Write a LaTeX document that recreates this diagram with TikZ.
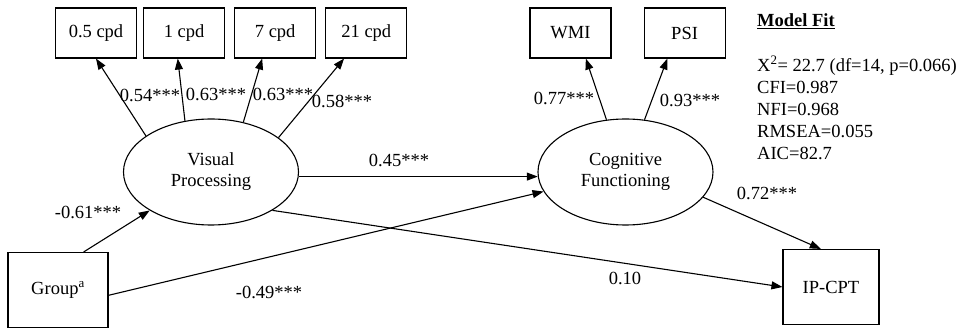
\documentclass[tikz,border=0pt]{standalone}
\usepackage{fontspec}
\setmainfont{Liberation Serif}
\usetikzlibrary{shapes.geometric,arrows.meta,positioning}

\begin{document}
\begin{tikzpicture}[x=1pt,y=-1pt,
    every node/.style={font=\fontsize{18.5pt}{21pt}\selectfont},
    indicator/.style={rectangle,draw,line width=1.1pt,minimum width=81pt,minimum height=50pt,inner sep=0pt},
    observed/.style={rectangle,draw,line width=1.1pt,minimum height=75pt,inner sep=0pt},
    latent/.style={ellipse,draw,line width=1.1pt,minimum width=175pt,minimum height=106pt,inner sep=0pt,align=center},
    arrow/.style={-{Triangle[length=11pt,width=8pt]},line width=1.1pt},
    coef/.style={inner sep=0pt}
]
\useasboundingbox (0,0) rectangle (969,328);

% Latent factors
\node[latent] (vp) at (211,172) {Visual\\Processing};
\node[latent] (cf) at (625.5,172) {Cognitive\\Functioning};

% Contrast sensitivity indicators
\node[indicator] (c05) at (96,33) {0.5 cpd};
\node[indicator,right=6pt of c05] (c1) {1 cpd};
\node[indicator,right=9pt of c1] (c7) {7 cpd};
\node[indicator,right=9pt of c7] (c21) {21 cpd};

% Cognitive indicators
\node[indicator] (wmi) at (570.5,33) {WMI};
\node[indicator,right=32pt of wmi] (psi) {PSI};

% Observed variables
\node[observed,minimum width=100pt] (grp) at (58,290) {Group\textsuperscript{a}};
\node[observed,minimum width=96pt] (ip) at (831,287) {IP-CPT};

% Model fit
\node[anchor=base west,inner sep=0pt] (fittitle) at (757,27) {\underline{\textbf{Model Fit}}};
\node[anchor=north west,inner sep=0pt,align=left,font=\fontsize{18.5pt}{22pt}\selectfont] (fitstats) at (757,56)
  {X\textsuperscript{2}= 22.7 (df=14, p=0.066)\\CFI=0.987\\NFI=0.968\\RMSEA=0.055\\AIC=82.7};

% Loadings
\draw[arrow] (vp.151) -- (c05.south);
\draw[arrow] (vp.117) -- (c1.-104);
\draw[arrow] (vp.57) -- (c7.-117);
\draw[arrow] (vp.27) -- (c21.-131);
\draw[arrow] (cf.110) -- (wmi.-59);
\draw[arrow] (cf.70) -- (psi.-124);

% Structural paths
\draw[arrow] (grp.56) -- (vp);
\draw[arrow] (grp.-6) -- (cf);
\draw[arrow] (vp.-3) -- (cf.183);
\draw[arrow] (vp.-32) -- (ip.west);
\draw[arrow] (cf.-18) -- (ip.105);

% Coefficients
\node[coef] (l054) at (150,95) {0.54***};
\node[coef] (l063a) at (216,94) {0.63***};
\node[coef] (l063b) at (283,94) {0.63***};
\node[coef] (l058) at (342,101) {0.58***};
\node[coef] (l077) at (564,98) {0.77***};
\node[coef] (l093) at (690,100) {0.93***};
\node[coef] (l045) at (399,160) {0.45***};
\node[coef] (l061) at (88,212) {-0.61***};
\node[coef] (l049) at (269,292) {-0.49***};
\node[coef] (l010) at (625,278) {0.10};
\node[coef] (l072) at (767,193) {0.72***};

\end{tikzpicture}
\end{document}
